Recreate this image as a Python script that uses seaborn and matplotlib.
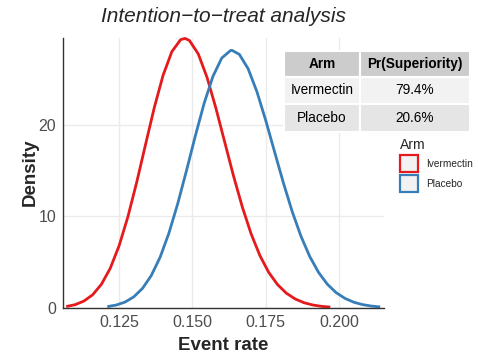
import matplotlib
matplotlib.use("Agg")
import matplotlib.pyplot as plt
import seaborn as sns
import pandas as pd
from matplotlib.patches import Patch, Rectangle

# ---------------- data ----------------
arms = ["Ivermectin", "Placebo"]
arm_colors = ["#E41A1C", "#377EB8"]
pr_superiority = ["79.4%", "20.6%"]
table_header = ["Arm", "Pr(Superiority)"]

ivermectin_rate = [0.107, 0.110, 0.113, 0.116, 0.119, 0.122, 0.125, 0.128, 0.131, 0.134,
                   0.137, 0.140, 0.143, 0.146, 0.1475, 0.149, 0.152, 0.155, 0.158, 0.161,
                   0.164, 0.167, 0.170, 0.173, 0.176, 0.179, 0.182, 0.185, 0.188, 0.191,
                   0.194, 0.197]
ivermectin_density = [0.16, 0.36, 0.75, 1.44, 2.59, 4.33, 6.77, 9.93, 13.69, 17.79,
                      21.84, 25.37, 27.96, 29.27, 29.40, 29.17, 27.71, 25.14, 21.81, 18.11,
                      14.42, 11.03, 8.10, 5.72, 3.89, 2.56, 1.62, 0.99, 0.58, 0.33,
                      0.18, 0.10]

placebo_rate = [0.121, 0.124, 0.127, 0.130, 0.133, 0.136, 0.139, 0.142, 0.145, 0.148,
                0.151, 0.154, 0.157, 0.160, 0.163, 0.1635, 0.166, 0.169, 0.172, 0.175,
                0.178, 0.181, 0.184, 0.187, 0.190, 0.193, 0.196, 0.199, 0.202, 0.205,
                0.208, 0.211, 0.214]
placebo_density = [0.15, 0.32, 0.64, 1.21, 2.14, 3.55, 5.54, 8.17, 11.38, 15.00,
                   18.77, 22.32, 25.26, 27.26, 28.08, 28.10, 27.66, 26.09, 23.58, 20.45,
                   17.04, 13.66, 10.53, 7.83, 5.61, 3.88, 2.59, 1.67, 1.05, 0.63,
                   0.37, 0.21, 0.12]

x_ticks = [0.125, 0.150, 0.175, 0.200]
x_tick_labels = ["0.125", "0.150", "0.175", "0.200"]
y_ticks = [0, 10, 20]
y_tick_labels = ["0", "10", "20"]

# ---------------- style ----------------
sns.set_style("white")
plt.rcParams["font.family"] = ["Liberation Sans", "DejaVu Sans"]

W, H = 478, 358
fig = plt.figure(figsize=(W / 100, H / 100), dpi=100)
ax_left, ax_right, ax_top, ax_bottom = 63, 384, 37.5, 308
ax = fig.add_axes([ax_left / W, 1 - ax_bottom / H,
                   (ax_right - ax_left) / W, (ax_bottom - ax_top) / H])

df = pd.DataFrame({
    "rate": ivermectin_rate + placebo_rate,
    "density": ivermectin_density + placebo_density,
    "Arm": [arms[0]] * len(ivermectin_rate) + [arms[1]] * len(placebo_rate),
})
palette = dict(zip(arms, arm_colors))
sns.lineplot(data=df, x="rate", y="density", hue="Arm", palette=palette,
             sort=False, estimator=None, linewidth=2.0, ax=ax, legend=False)
for ln in ax.lines:
    ln.set_clip_on(False)
    ln.set_solid_joinstyle("round")
    ln.set_solid_capstyle("butt")

ax.set_xlim(0.1059, 0.2153)
ax.set_ylim(0, 29.5)
ax.set_xticks(x_ticks)
ax.set_xticklabels(x_tick_labels)
ax.set_yticks(y_ticks)
ax.set_yticklabels(y_tick_labels)
ax.grid(True, color="#EBEBEB", linewidth=1.0)
ax.set_axisbelow(True)
for s in ["top", "right"]:
    ax.spines[s].set_visible(False)
for s in ["left", "bottom"]:
    ax.spines[s].set_color("#333333")
    ax.spines[s].set_linewidth(1.0)
ax.tick_params(axis="both", length=3, width=0.8, color="#333333",
               labelcolor="#4D4D4D", labelsize=11.5, pad=2)

ax.set_xlabel("Event rate", fontsize=13.5, fontweight="bold", va="center")
ax.xaxis.set_label_coords(0.5, (ax_bottom - 345) / (ax_bottom - ax_top))
ax.set_ylabel("Density", fontsize=13.5, fontweight="bold", va="center")
ax.yaxis.set_label_coords((30 - ax_left) / (ax_right - ax_left), 0.5)

fig.text((ax_left + ax_right) / 2 / W, 1 - 16 / H, "Intention\u2212to\u2212treat analysis",
         ha="center", va="center", fontsize=15, fontstyle="italic")

# ---------------- table ----------------
col_edges = [284, 360, 470]
row_edges = [51, 77, 104, 132]
fills = ["#CCCCCC", "#F2F2F2", "#E5E5E5"]
rows = [table_header] + [[a, p] for a, p in zip(arms, pr_superiority)]
for r, row in enumerate(rows):
    for c, txt in enumerate(row):
        x0, x1 = col_edges[c], col_edges[c + 1]
        y0, y1 = row_edges[r], row_edges[r + 1]
        fig.patches.append(Rectangle((x0 / W, 1 - y1 / H), (x1 - x0) / W, (y1 - y0) / H,
                                     transform=fig.transFigure, facecolor=fills[r],
                                     edgecolor="white", linewidth=1.5, zorder=5))
        fig.text((x0 + x1) / 2 / W, 1 - (y0 + y1) / 2 / H, txt, ha="center", va="center",
                 fontsize=9.8, fontweight="bold" if r == 0 else "normal",
                 color="black", zorder=6)

# ---------------- legend ----------------
handles = [Patch(facecolor="#F2F2F2", edgecolor=c, linewidth=1.6, label=a)
           for a, c in zip(arms, arm_colors)]
leg = fig.legend(handles=handles, title="Arm", loc="upper left",
                 bbox_to_anchor=(398 / W, 1 - 136 / H), frameon=False,
                 fontsize=7.3, title_fontsize=10, handlelength=1.8, handleheight=2.2,
                 handletextpad=0.75, labelspacing=0.3, borderaxespad=0, borderpad=0.2)
leg._legend_box.align = "left"

fig.savefig("out.png", dpi=100)
